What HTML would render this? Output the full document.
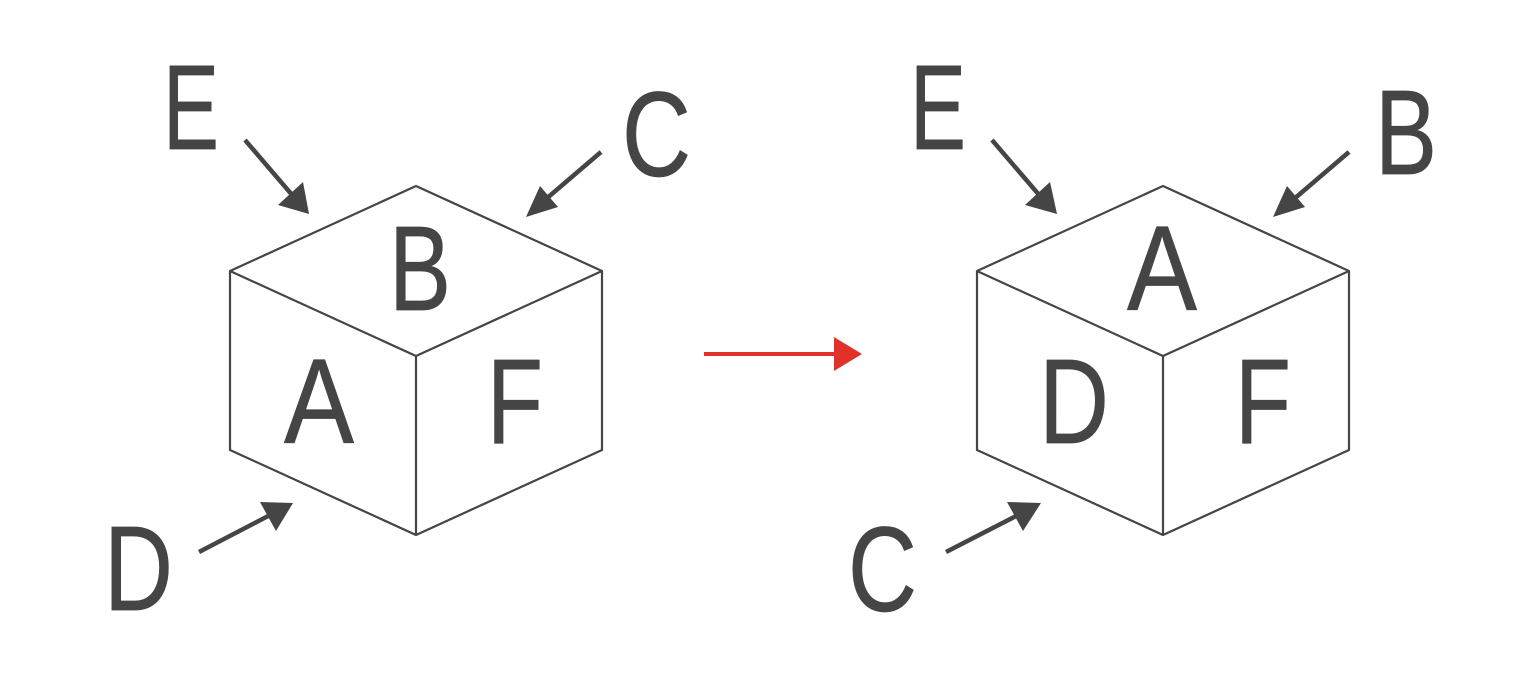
<!DOCTYPE html>
<html><head><meta charset="utf-8"><style>
html,body{margin:0;padding:0;background:#fff;}
svg{display:block;}
text{font-family:"Liberation Sans",sans-serif;font-size:121px;fill:#454545;stroke:#454545;stroke-width:0.7;}
</style></head><body>
<svg width="1536" height="686" viewBox="0 0 1536 686" xmlns="http://www.w3.org/2000/svg">
<rect width="1536" height="686" fill="#fff"/>
<g fill="none" stroke="#454545" stroke-width="2.2" stroke-linejoin="round">
<path d="M416,186 L602,271 L602,450 L416,535 L230,450 L230,271 Z M230,271 L416,356 L602,271 M416,356 L416,535"/>
<path d="M1163,186 L1349,271 L1349,450 L1163,535 L977,450 L977,271 Z M977,271 L1163,356 L1349,271 M1163,356 L1163,535"/>
</g>
<g stroke="#454545" stroke-width="4.5">
<line x1="245" y1="140" x2="293" y2="196"/>
<line x1="601" y1="152" x2="546" y2="199"/>
<line x1="199" y1="552" x2="272" y2="514"/>
<line x1="992" y1="140" x2="1040" y2="196"/>
<line x1="1349" y1="152" x2="1294" y2="199"/>
<line x1="946" y1="552" x2="1020" y2="514"/>
</g>
<g fill="#454545">
<polygon points="309,214 278,205 303,182"/>
<polygon points="526,217 540,186 558,207"/>
<polygon points="293,503 260,502 276,531"/>
<polygon points="1057,214 1025,205 1050,182"/>
<polygon points="1273,217 1287,186 1305,207"/>
<polygon points="1041,503 1007,502 1023,531"/>
</g>
<line x1="704" y1="354" x2="836" y2="354" stroke="#e0322a" stroke-width="4"/>
<polygon points="834,337 862,354 834,371" fill="#e0322a"/>
<text x="163" y="149" textLength="56" lengthAdjust="spacingAndGlyphs">E</text>
<text x="622" y="176" textLength="69" lengthAdjust="spacingAndGlyphs">C</text>
<text x="389" y="310" textLength="62" lengthAdjust="spacingAndGlyphs">B</text>
<text x="284" y="443" textLength="70" lengthAdjust="spacingAndGlyphs">A</text>
<text x="487" y="443" textLength="56" lengthAdjust="spacingAndGlyphs">F</text>
<text x="104" y="610" textLength="69" lengthAdjust="spacingAndGlyphs">D</text>
<text x="910" y="149" textLength="56" lengthAdjust="spacingAndGlyphs">E</text>
<text x="1375" y="174" textLength="62" lengthAdjust="spacingAndGlyphs">B</text>
<text x="1127" y="310" textLength="70" lengthAdjust="spacingAndGlyphs">A</text>
<text x="1039" y="443" textLength="70" lengthAdjust="spacingAndGlyphs">D</text>
<text x="1235" y="443" textLength="56" lengthAdjust="spacingAndGlyphs">F</text>
<text x="848" y="611" textLength="69" lengthAdjust="spacingAndGlyphs">C</text>
</svg>
</body></html>
